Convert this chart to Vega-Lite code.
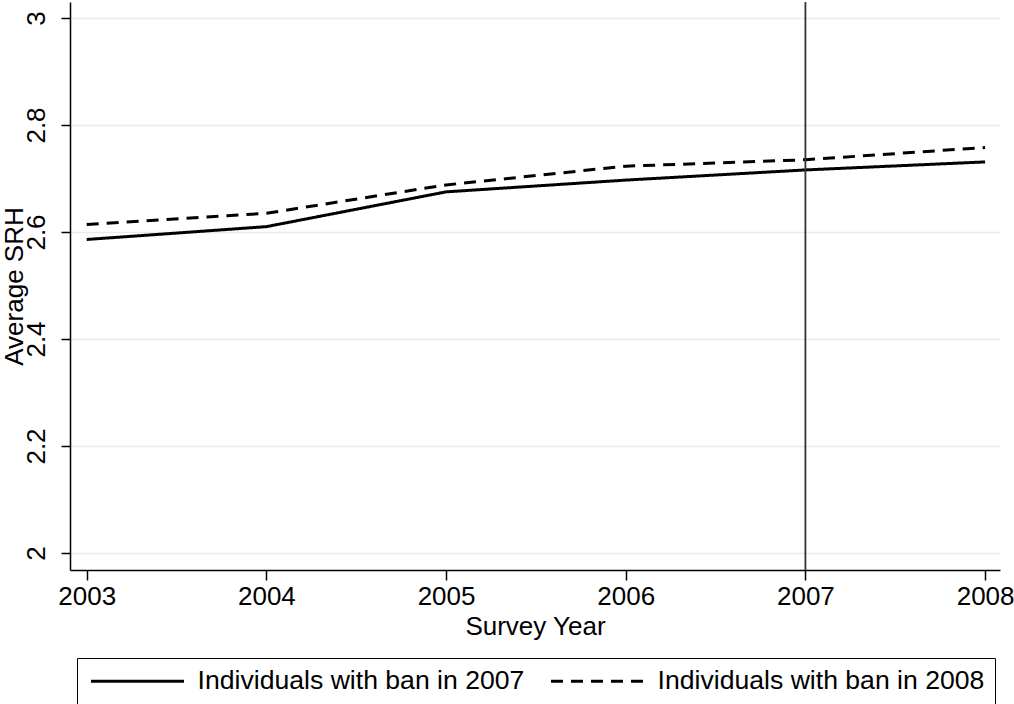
{
  "$schema": "https://vega.github.io/schema/vega-lite/v6.json",
  "width": 930,
  "height": 568,
  "autosize": {"type": "none"},
  "padding": {"left": 70, "top": 2, "right": 14, "bottom": 134},
  "background": "white",
  "config": {
    "view": {"stroke": null},
    "font": "Liberation Sans",
    "axis": {"labelFont": "Liberation Sans", "titleFont": "Liberation Sans", "labelFontSize": 26, "titleFontSize": 26, "labelColor": "black", "titleColor": "black", "titleFontWeight": "normal"},
    "legend": {"labelFont": "Liberation Sans", "labelFontSize": 26.6, "labelColor": "black"}
  },
  "datasets": {
    "series": [
      {"year": 2003, "srh": 2.586, "group": "Individuals with ban in 2007"},
      {"year": 2004, "srh": 2.610, "group": "Individuals with ban in 2007"},
      {"year": 2005, "srh": 2.675, "group": "Individuals with ban in 2007"},
      {"year": 2006, "srh": 2.697, "group": "Individuals with ban in 2007"},
      {"year": 2007, "srh": 2.716, "group": "Individuals with ban in 2007"},
      {"year": 2008, "srh": 2.731, "group": "Individuals with ban in 2007"},
      {"year": 2003, "srh": 2.614, "group": "Individuals with ban in 2008"},
      {"year": 2004, "srh": 2.635, "group": "Individuals with ban in 2008"},
      {"year": 2005, "srh": 2.688, "group": "Individuals with ban in 2008"},
      {"year": 2006, "srh": 2.723, "group": "Individuals with ban in 2008"},
      {"year": 2007, "srh": 2.735, "group": "Individuals with ban in 2008"},
      {"year": 2008, "srh": 2.758, "group": "Individuals with ban in 2008"}
    ],
    "ban": [{"year": 2007}]
  },
  "layer": [
    {
      "data": {"name": "series"},
      "mark": {"type": "line", "color": "black", "strokeWidth": 3, "strokeCap": "butt"},
      "encoding": {
        "x": {
          "field": "year", "type": "quantitative",
          "scale": {"domain": [2002.907, 2008.083], "nice": false, "zero": false},
          "axis": {
            "title": "Survey Year", "values": [2003, 2004, 2005, 2006, 2007, 2008], "format": "d",
            "grid": false, "domainColor": "black", "domainWidth": 1.5, "tickColor": "black", "tickWidth": 1.5, "tickSize": 10,
            "labelPadding": 3, "titlePadding": 4, "labelFlush": false
          }
        },
        "y": {
          "field": "srh", "type": "quantitative",
          "scale": {"domain": [1.9682, 3.0299], "nice": false, "zero": false},
          "axis": {
            "title": "Average SRH", "values": [2, 2.2, 2.4, 2.6, 2.8, 3],
            "labelExpr": "datum.value == 2 ? '2' : datum.value == 3 ? '3' : format(datum.value, '.1f')",
            "grid": true, "gridColor": "#eaeaea", "gridWidth": 1.5,
            "domainColor": "black", "domainWidth": 1.5, "tickColor": "black", "tickWidth": 1.5, "tickSize": 9,
            "labelAngle": 270, "labelAlign": "center", "labelBaseline": "bottom", "labelPadding": 12, "labelFlush": false,
            "titlePadding": -4
          }
        },
        "strokeDash": {
          "field": "group", "type": "nominal",
          "scale": {"domain": ["Individuals with ban in 2007", "Individuals with ban in 2008"], "range": [[1, 0], [12, 8]]},
          "legend": {
            "title": null, "orient": "none", "legendX": 7, "legendY": 656, "direction": "horizontal",
            "symbolType": "M-1,0L9,0", "symbolSize": 346, "symbolStrokeWidth": 3, "symbolStrokeColor": "black",
            "labelOffset": 84, "columnPadding": 19, "padding": 10,
            "strokeColor": "black", "fillColor": "white", "labelLimit": 500
          }
        }
      }
    },
    {
      "data": {"name": "ban"},
      "mark": {"type": "rule", "color": "#333333", "strokeWidth": 1.8},
      "encoding": {"x": {"field": "year", "type": "quantitative"}}
    }
  ]
}
